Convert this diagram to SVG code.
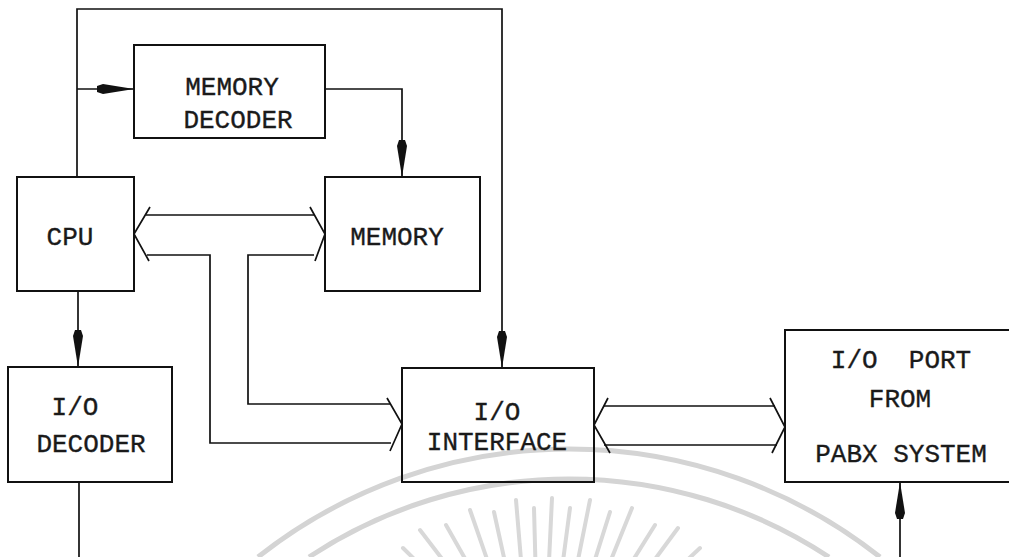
<svg xmlns="http://www.w3.org/2000/svg" width="1009" height="557" viewBox="0 0 1009 557">
<style>
.box{fill:none;stroke:#111;stroke-width:2}
.ln{fill:none;stroke:#111;stroke-width:1.7}
.t{font-family:"Liberation Mono","DejaVu Sans Mono",monospace;font-size:26px;fill:#1a1a1a;stroke:#1a1a1a;stroke-width:0.35;text-anchor:middle;white-space:pre}
.wm{fill:none;stroke:#d4d4d4;stroke-width:5}
.ray{fill:none;stroke:#d8d8d8;stroke-width:4;stroke-linecap:round}
</style>
<defs>
<marker id="ah" markerUnits="userSpaceOnUse" viewBox="0 0 38 11" markerWidth="38" markerHeight="11" refX="37" refY="5.5" orient="auto">
<path d="M0,2.5 L6,0.5 L37,5.5 L6,10.5 L0,8.5 Z" fill="#111"/>
</marker>
</defs>
<rect width="1009" height="557" fill="#fff"/>
<g id="watermark">
<path class="wm" d="M258,557 A502,502 0 0 1 880,557"/>
<path class="wm" d="M309,557 A472,472 0 0 1 829,557"/>
<g class="ray">
<line x1="463" y1="607" x2="403" y2="548"/>
<line x1="472" y1="598" x2="420" y2="530"/>
<line x1="484" y1="592" x2="446" y2="525"/>
<line x1="497" y1="588" x2="470" y2="510"/>
<line x1="510" y1="585" x2="494" y2="512"/>
<line x1="523" y1="584" x2="516" y2="500"/>
<line x1="536" y1="583" x2="534" y2="508"/>
<line x1="548" y1="583" x2="552" y2="498"/>
<line x1="560" y1="584" x2="570" y2="508"/>
<line x1="573" y1="585" x2="590" y2="500"/>
<line x1="586" y1="588" x2="610" y2="512"/>
<line x1="598" y1="592" x2="632" y2="508"/>
<line x1="610" y1="597" x2="655" y2="525"/>
<line x1="622" y1="604" x2="678" y2="528"/>
<line x1="632" y1="612" x2="700" y2="548"/>
</g>
</g>
<g id="connectors">
<path class="ln" d="M77,177 V9 H502 V368" marker-end="url(#ah)"/>
<path class="ln" d="M77,89 H134" marker-end="url(#ah)"/>
<path class="ln" d="M325,89 H402 V177" marker-end="url(#ah)"/>
<path class="ln" d="M78,291 V367" marker-end="url(#ah)"/>
<path class="ln" d="M79,482 V557"/>
<path class="ln" d="M900,557 V482" marker-end="url(#ah)"/>
<g id="bus-cpu-memory">
<path class="ln" d="M150,207 L134,234 L149,261"/>
<path class="ln" d="M310,207 L325,234 L315,261"/>
<path class="ln" d="M146,215 H314"/>
<path class="ln" d="M147,255 H210 V443 H391"/>
<path class="ln" d="M314,255 H248 V404 H390"/>
<path class="ln" d="M387,398 L402,424 L390,451"/>
</g>
<g id="bus-io-pabx">
<path class="ln" d="M608,398 L594,425 L610,453"/>
<path class="ln" d="M770,398 L785,427 L772,453"/>
<path class="ln" d="M604,406 H775"/>
<path class="ln" d="M604,445 H777"/>
</g>
</g>
<g id="memory-decoder">
<rect class="box" x="134" y="45" width="191" height="93"/>
<text class="t" x="232" y="95">MEMORY</text>
<text class="t" x="238" y="128">DECODER</text>
</g>
<g id="cpu">
<rect class="box" x="17" y="177" width="117" height="114"/>
<text class="t" x="70" y="245">CPU</text>
</g>
<g id="memory">
<rect class="box" x="325" y="177" width="155" height="114"/>
<text class="t" x="397" y="245">MEMORY</text>
</g>
<g id="io-decoder">
<rect class="box" x="8" y="367" width="164" height="115"/>
<text class="t" x="75" y="415">I/O</text>
<text class="t" x="91" y="452">DECODER</text>
</g>
<g id="io-interface">
<rect class="box" x="402" y="368" width="192" height="114"/>
<text class="t" x="497" y="420">I/O</text>
<text class="t" x="497" y="450">INTERFACE</text>
</g>
<g id="io-port">
<rect class="box" x="785" y="330" width="230" height="152"/>
<text class="t" x="901" y="368">I/O  PORT</text>
<text class="t" x="900" y="407">FROM</text>
<text class="t" x="901" y="462">PABX SYSTEM</text>
</g>
</svg>
